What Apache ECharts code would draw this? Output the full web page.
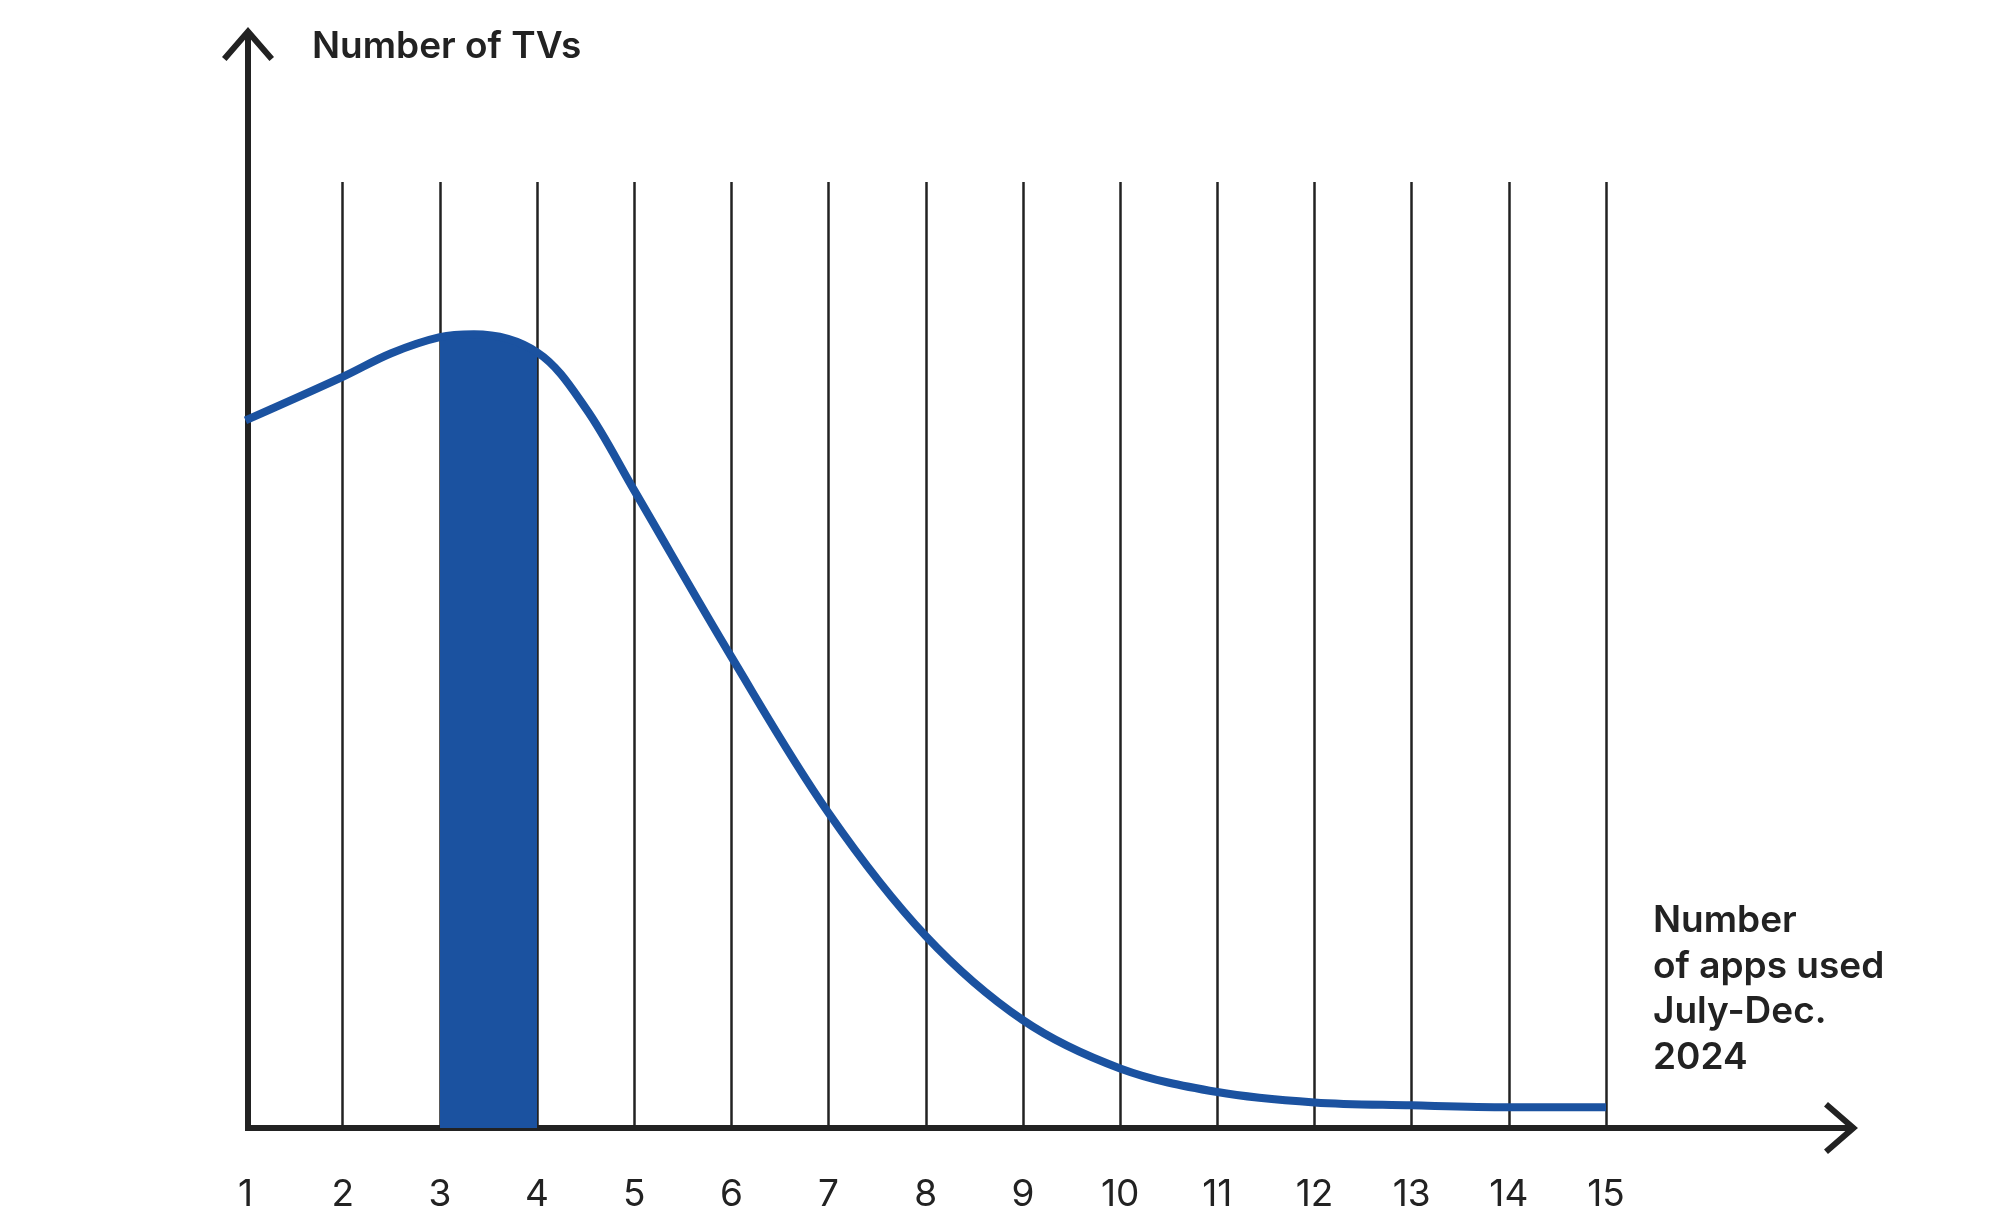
<!DOCTYPE html>
<html>
<head>
<meta charset="utf-8">
<script src="https://cdn.jsdelivr.net/npm/echarts@6/dist/echarts.min.js"></script>
<style>
  html, body { margin: 0; padding: 0; background: #ffffff; }
  #chart { width: 2000px; height: 1232px; }
</style>
</head>
<body>
<div id="chart"></div>
<script>
// ---- data ----
const appCounts = [1, 2, 2.5, 3, 3.35, 4, 4.5, 5, 6, 7, 8, 9, 10, 11, 12, 13, 14, 15];
const tvShare   = [74.8, 79.4, 81.9, 83.6, 83.9, 82.0, 76.1, 67.4, 49.8, 33.3, 20.3, 11.4, 6.3, 3.8, 2.7, 2.4, 2.2, 2.2];
const highlightRange = [3, 4];
const yAxisTitle = 'Number of TVs';
const xAxisTitle = 'Number\nof apps used\nJuly-Dec.\n2024';

const INK = '#222222';
const BLUE = '#1b52a0';
const FONT = 'Inter, "Noto Sans", sans-serif';

const points = appCounts.map((x, i) => [x, tvShare[i]]);

// open chevron arrow head (points up; ECharts rotates it along the axis)
const arrowPath = 'path://M26,0 L52,30 L47.46,33.93 L26,9.18 L4.54,33.93 L0,30 Z M23,6 L29,6 L29,33.93 L23,33.93 Z';
const arrowSize = [52, 33.93];

const chart = echarts.init(document.getElementById('chart'), null, { renderer: 'canvas' });

chart.setOption({
  backgroundColor: '#ffffff',
  animation: false,
  title: [
    {
      text: yAxisTitle,
      left: 312, top: 24, padding: 0,
      textStyle: { fontFamily: FONT, fontSize: 37, fontWeight: 600, color: INK, lineHeight: 46 }
    },
    {
      text: xAxisTitle,
      left: 1653, top: 898, padding: 0,
      textStyle: { fontFamily: FONT, fontSize: 37, fontWeight: 600, color: INK, lineHeight: 45.7 }
    }
  ],
  grid: [
    { left: 245.5, top: 182, width: 1360.5, height: 946 },
    { left: 248, top: 44, width: 1593, height: 1084 }
  ],
  xAxis: [
    {
      gridIndex: 0, type: 'value', min: 1, max: 15, interval: 1,
      axisLine: { show: false },
      axisTick: { show: false },
      axisLabel: { show: true, margin: 48, fontFamily: FONT, fontSize: 37, color: INK },
      splitLine: { show: true, showMinLine: false, showMaxLine: true, lineStyle: { color: INK, width: 2.5 } }
    },
    {
      gridIndex: 1, type: 'value', min: 0, max: 1,
      axisLine: { show: true, symbol: ['none', arrowPath], symbolSize: arrowSize,
                  lineStyle: { color: INK, width: 6, cap: 'square' } },
      axisTick: { show: false }, axisLabel: { show: false }, splitLine: { show: false }
    }
  ],
  yAxis: [
    {
      gridIndex: 0, type: 'value', min: 0, max: 100,
      axisLine: { show: false }, axisTick: { show: false },
      axisLabel: { show: false }, splitLine: { show: false }
    },
    {
      gridIndex: 1, type: 'value', min: 0, max: 1,
      axisLine: { show: true, symbol: ['none', arrowPath], symbolSize: arrowSize,
                  lineStyle: { color: INK, width: 6, cap: 'square' } },
      axisTick: { show: false }, axisLabel: { show: false }, splitLine: { show: false }
    }
  ],
  visualMap: {
    type: 'piecewise', show: false, dimension: 0, seriesIndex: 0,
    pieces: [{ gte: highlightRange[0], lte: highlightRange[1], color: BLUE }],
    outOfRange: { color: 'rgba(0,0,0,0)' }
  },
  series: [
    {
      name: 'highlight',
      type: 'line', xAxisIndex: 0, yAxisIndex: 0,
      data: points, smooth: 0.35, symbol: 'none', showSymbol: false,
      lineStyle: { width: 0, opacity: 0 },
      areaStyle: { opacity: 1 },
      silent: true, z: 2
    },
    {
      name: 'TVs',
      type: 'line', xAxisIndex: 0, yAxisIndex: 0,
      data: points, smooth: 0.35, symbol: 'none', showSymbol: false,
      lineStyle: { color: BLUE, width: 8 },
      itemStyle: { color: BLUE },
      silent: true, z: 3
    }
  ]
});
</script>
</body>
</html>
